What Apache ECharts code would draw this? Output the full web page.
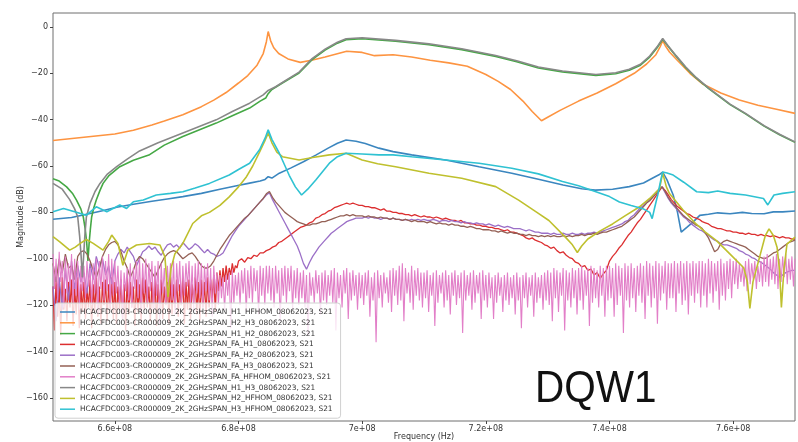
<!DOCTYPE html>
<html>
<head>
<meta charset="utf-8">
<script src="https://cdn.jsdelivr.net/npm/echarts@6/dist/echarts.min.js"></script>
<style>
  html, body { margin: 0; padding: 0; background: #ffffff; }
  #chart { width: 798px; height: 442px; }
</style>
</head>
<body>
<div id="chart"></div>
<script>
// S21 magnitude sweeps, 650-770 MHz. Frequencies in MHz, magnitudes in dB.
const PREFIX = 'HCACFDC003-CR000009_2K_2GHzSPAN_';
const traceNames = [
  PREFIX + 'H1_HFHOM_08062023, S21',
  PREFIX + 'H2_H3_08062023, S21',
  PREFIX + 'H1_H2_08062023, S21',
  PREFIX + 'FA_H1_08062023, S21',
  PREFIX + 'FA_H2_08062023, S21',
  PREFIX + 'FA_H3_08062023, S21',
  PREFIX + 'FA_HFHOM_08062023, S21',
  PREFIX + 'H1_H3_08062023, S21',
  PREFIX + 'H2_HFHOM_08062023, S21',
  PREFIX + 'H3_HFHOM_08062023, S21'
];
const traceColors = ['#3b86bf', '#fd9441', '#45a845', '#dc2f30', '#9b6fc7',
                     '#946055', '#e27fc8', '#888888', '#bfc02e', '#2fc2d2'];

const xTicks = [660, 680, 700, 720, 740, 760];
const yTicks = [0, -20, -40, -60, -80, -100, -120, -140, -160];

// Smooth traces: [MHz, dB]
const h1Hfhom = [[650,-83],[653,-82.2],[656,-80.5],[658,-79.3],[660.3,-77.8],[663,-76.5],[666,-75.2],[668.5,-74.2],[671,-73.2],[674,-71.8],[677,-70],[679.5,-68.6],[681.8,-67.4],[683.5,-66.5],[684.3,-65.8],[684.8,-64.6],[685.4,-65.2],[686.6,-63.1],[688.5,-60.8],[690.5,-58.2],[692.5,-55.3],[694.5,-52.3],[696,-50.2],[697.4,-48.8],[699,-49.3],[700.5,-50.3],[702.7,-52.3],[705,-53.8],[708,-55.2],[713.5,-57.4],[718.9,-60.3],[724.2,-63.1],[728.5,-65.7],[732.5,-68.2],[735.5,-69.8],[737.7,-70.4],[740.5,-70],[743.2,-68.9],[745.5,-67.3],[747,-65.2],[748,-63.8],[748.6,-62.6],[749.3,-66],[750.3,-72.5],[751,-80],[751.6,-88.5],[752.5,-86.5],[753.5,-84.2],[754.6,-81.3],[756,-80.8],[757.5,-80.2],[759.5,-80.6],[761.5,-80],[763,-80.5],[765,-80.6],[766.5,-79.8],[768,-79.8],[770,-79.4]];

const h2H3 = [[650,-49],[655,-47.6],[660,-46.2],[663,-44.6],[666,-42.3],[668,-40.6],[671,-37.9],[674,-34.4],[676,-31.6],[678,-28.3],[680,-24.2],[681.5,-21],[683,-16.5],[684,-11.5],[684.5,-6.5],[684.8,-2],[685.2,-6],[685.7,-9],[686.5,-11.5],[688,-13.8],[690,-15.3],[692,-14.3],[694,-13],[697.5,-10.5],[700,-11],[702,-12.4],[705,-12],[708,-13],[711,-14.4],[714,-15.5],[717,-17],[720,-20.5],[722,-23.5],[724,-27],[726,-32],[727.5,-36.5],[729,-40.5],[730,-39],[732,-36],[735,-32],[738,-28.5],[741,-24.5],[744,-20],[746,-16],[747.5,-12],[748.2,-8.5],[748.6,-5.9],[749,-8],[749.7,-10.8],[751,-14.5],[753,-20],[755,-24.5],[758,-28.5],[761,-31.5],[764,-33.8],[767,-35.5],[770,-37.3]];

const h1H2 = [[650,-65.5],[651,-66.5],[652.2,-69],[653.2,-72],[653.8,-74.7],[654.5,-78.5],[654.9,-82],[655.2,-87],[655.45,-93],[655.65,-101],[655.85,-93],[656.05,-87],[656.25,-82],[656.6,-78],[657,-74.7],[657.6,-70.5],[658.1,-67.5],[659,-64.3],[660.8,-60.3],[663,-57.5],[665.5,-55.3],[668,-51],[671,-47.3],[676.4,-41.5],[679,-38.3],[681.8,-35],[683.5,-32],[684.4,-30.7],[684.8,-28.8],[685.4,-27],[687.1,-24.2],[689.8,-19.9],[691.9,-14.1],[694,-10],[696,-7],[697.4,-5.5],[700,-5.1],[705.4,-6.2],[710.8,-7.7],[716.1,-9.8],[721.6,-12.7],[725,-15],[728.5,-17.7],[732.4,-19.4],[737.8,-20.9],[741,-20.2],[743.2,-18.7],[745,-16.5],[746.5,-13],[747.7,-9],[748.6,-5.3],[749.5,-8.5],[750.8,-12.8],[752.3,-17.5],[754,-22],[756,-26.5],[759.5,-33.5],[762,-37.5],[765,-42.8],[767.5,-46.5],[770,-49.8]];

const h1H3 = [[650,-67.5],[651.5,-70],[652.7,-74.5],[653.5,-78.5],[654,-82],[654.3,-90],[654.55,-99],[654.75,-108],[654.95,-99],[655.15,-90],[655.4,-82],[656,-76],[656.8,-71],[657.6,-67.5],[658.8,-63.5],[660.3,-60.3],[662,-57],[664,-53.5],[667,-50],[671,-45.8],[676.4,-40.1],[679,-36.5],[681.8,-32.9],[684,-29.3],[684.8,-27.4],[686,-25.8],[687.1,-24],[689.8,-19.5],[691.9,-13.7],[694,-9.6],[696,-6.6],[697.4,-5.1],[700,-4.7],[705.4,-5.8],[710.8,-7.3],[716.1,-9.4],[721.6,-12.3],[725,-14.6],[728.5,-17.3],[732.4,-19],[737.8,-20.5],[741,-19.8],[743.2,-18.3],[745,-16.1],[746.5,-12.6],[747.7,-8.6],[748.6,-5],[749.5,-8.2],[750.8,-12.5],[752.3,-17.2],[754,-21.8],[756,-26.3],[759.5,-33.3],[762,-37.3],[765,-42.6],[767.5,-46.3],[770,-49.6]];

const h2Hfhom = [[650,-90.5],[651.1,-92.7],[652.7,-96.3],[653.6,-95],[654.4,-93.4],[655.4,-91.7],[656.5,-93.4],[658.1,-96.3],[659,-92.5],[659.5,-89.8],[660.5,-93.4],[661.3,-102.8],[662.1,-96.3],[663.5,-94.1],[665.6,-93.4],[667.3,-94.1],[668.1,-99.2],[668.6,-116.5],[669.1,-104],[669.7,-98],[671,-93.4],[672.6,-84.8],[674,-81.5],[675.3,-80],[677,-77],[678.5,-73.3],[680,-69],[681.2,-65],[682.3,-60],[683.4,-54],[684.2,-49.5],[684.8,-45.8],[685.4,-50],[686.2,-54],[687.1,-56],[689.8,-57.4],[692,-56.3],[694.7,-55.2],[697.4,-54.5],[700,-57.4],[702.5,-59],[705.4,-60.3],[710.8,-63.1],[716.1,-65.3],[721.6,-68.9],[725.3,-74.7],[728.5,-80.4],[730.2,-83.5],[732.9,-90.8],[734,-94],[734.8,-97.3],[735.5,-94.5],[736.5,-91.5],[738.5,-88],[740.5,-85],[742.5,-81.5],[744.8,-77.7],[746.5,-74],[748.1,-69.7],[748.6,-63],[749.2,-69],[749.7,-71.9],[751.9,-79],[754,-85],[755.5,-88.5],[757.3,-92.2],[759.5,-98],[761.7,-103.9],[762.3,-110],[762.7,-121.4],[763.2,-110],[764.4,-98],[765.2,-90],[765.8,-87.1],[766.5,-90],[767.1,-95],[767.5,-105],[767.8,-121],[768.2,-105],[768.7,-93.7],[770,-90.7]];

const h3Hfhom = [[650,-79.7],[651.7,-78.3],[653.5,-79.7],[655.4,-81.2],[657,-77.6],[658.7,-79.7],[660.8,-76.8],[661.9,-78.3],[663,-75.4],[664.6,-74.7],[666.7,-72.5],[669,-71.8],[671,-71.1],[673,-69.5],[675.3,-67.5],[678.5,-63.9],[680,-61.5],[681.8,-58.8],[683.4,-53],[684.3,-48],[684.8,-44.4],[685.4,-48.5],[686.6,-54.5],[688.2,-64],[689.2,-69],[690.2,-72.5],[691.2,-70],[692.5,-66],[694.7,-58.8],[696,-56],[697.4,-54.5],[700,-54.8],[702.7,-55.2],[705,-55.2],[708,-56],[713.5,-57.4],[718.9,-58.8],[724.2,-61],[728.5,-63.4],[732.4,-66.7],[735,-68.5],[737.8,-71.1],[740,-73.2],[741.6,-75.5],[743.5,-77],[745.4,-78.4],[746.5,-80],[746.9,-82.7],[747.3,-78],[747.8,-72.5],[748.3,-66],[748.6,-62.6],[749.3,-63],[750.3,-63.9],[752,-67],[754.1,-71.1],[756,-71.5],[757.5,-70.8],[759.5,-71.8],[762,-72.5],[764.9,-74],[765.6,-76.8],[766.6,-72.5],[768,-71.8],[770,-71.1]];

// FA_H1: 650-679.75 MHz every 0.25 MHz, then 680-770 MHz every 0.5 MHz
const faH1Low = [
  -112,-131,-109,-125,-111,-133,-108,-122,-113,-127,-110,-121,-109,-129,-112,-124,-108,-130,-111,-123,
  -110,-126,-113,-121,-109,-130,-111,-123,-108,-125,-112,-128,-110,-120,-109,-127,-111,-122,-108,-126,
  -110,-128,-112,-122,-109,-126,-111,-131,-108,-124,-110,-121,-112,-129,-109,-123,-111,-127,-108,-122,
  -109,-121,-112,-127,-110,-123,-108,-129,-111,-122,-109,-126,-112,-120,-110,-128,-108,-124,-111,-121,
  -109,-125,-111,-120,-108,-128,-110,-122,-109,-126,-111,-119,-108,-124,-110,-127,-109,-121,-110,-125,
  -108,-121,-109,-117,-107,-123,-106,-114,-105,-112,-104,-110,-103,-109,-104,-107,-102,-106,-103,-104
];
const faH1High = [
  -101,-100,-101.5,-99.5,-100,-98.5,-99,-97.5,-97.5,-96.5,
  -96,-95,-94.5,-93,-92.5,-91.5,-90.5,-89.5,-88.5,-87.5,
  -86.5,-86,-85.5,-84.5,-84,-82.5,-82,-81,-80.5,-79.5,
  -79,-78,-77.5,-77,-76.5,-76,-76.5,-76,-76.5,-77,
  -77,-77.5,-77.5,-78,-78,-78.5,-79,-78.5,-79.5,-79.5,
  -80,-80,-80.5,-80.5,-81,-81,-81.5,-81,-81.5,-82,
  -81.5,-82,-82,-82.5,-82,-82.5,-83,-82.5,-83,-83.5,
  -83.5,-84,-83.5,-84.5,-84.5,-85,-85,-85.5,-85.5,-86,
  -86,-86.5,-86.5,-87,-87,-87.5,-88,-87.5,-88.5,-88.5,
  -89,-89.5,-90,-91,-91.5,-91,-92,-92.5,-93,-94,
  -94.5,-95.5,-95,-96.5,-97.5,-97,-98.5,-99.5,-100,-101.5,
  -102,-103.5,-103,-105,-104.5,-107,-106,-108.5,-106.5,-105,
  -101,-99,-97.5,-95.5,-94,-92,-90,-88.5,-86.5,-84.5,
  -83,-81,-79,-77,-75,-73,-71,-69,-70.5,-72.5,
  -74.5,-76,-77.5,-78.5,-79.5,-80.5,-81,-82,-82.5,-83,
  -84,-84.5,-85,-86,-86.5,-87,-87,-87.5,-88,-88,
  -88.5,-88.5,-89,-89,-89.5,-89,-89.5,-89.5,-90,-89.5,
  -90,-90,-90.5,-90,-90.5,-91,-90.5,-91,-91,-91.5,
  -91.5
];

// FA_H2 and FA_H3: 650-770 MHz every 0.5 MHz
const faH2 = [
  -112,-127,-108,-122,-104,-118,-101,-113,-103,-110,
  -106,-115,-102,-109,-99,-104,-100,-107,-103,-111,
  -101,-98,-96,-97.5,-95,-97,-99,-103,-100,-97,
  -96,-94.5,-96,-95,-97,-98.5,-96,-94,-93.5,-95,
  -94,-95.5,-93,-94.5,-96,-95,-93.5,-94.5,-96,-97.5,
  -96,-97.5,-98,-99,-98.5,-97.5,-95,-92.5,-90,-88,
  -86,-84.5,-83,-81.5,-80,-78.5,-77,-75.5,-74,-72.5,
  -71.5,-74.5,-77,-79.5,-82,-84.5,-87,-89.5,-92,-94.5,
  -98,-102,-104.5,-101.5,-99,-97,-95,-93.5,-92,-90.5,
  -89,-88,-87,-86,-85,-84,-83.5,-83,-82.5,-82.5,
  -82.5,-82,-82.5,-82,-82.5,-82.5,-83,-82.5,-82.5,-83,
  -82.5,-83,-83,-83.5,-83,-83.5,-83,-83.5,-83,-83.5,
  -83,-83.5,-83.5,-83,-83.5,-84,-83.5,-83.5,-84,-83.5,
  -84,-84,-84.5,-84,-84.5,-84.5,-85,-84.5,-85,-85,
  -85.5,-85,-85.5,-86,-85.5,-86,-86.5,-86,-86.5,-87,
  -87,-87,-87.5,-88,-87.5,-88,-88.5,-88.5,-89,-89,
  -89,-89.5,-89,-89.5,-89.5,-89,-89.5,-89.5,-89,-89.5,
  -89.5,-89,-89.5,-89,-89,-88.5,-89,-88.5,-88,-87.5,
  -87,-86.5,-86,-85.5,-85,-84,-83.5,-82,-81,-79.5,
  -78,-77,-75.5,-74.5,-73,-71.5,-70,-69,-71.5,-74,
  -76,-77.5,-79,-80.5,-82,-83,-84.5,-85.5,-86.5,-87.5,
  -88,-89,-90,-91,-92,-92.5,-93.5,-94,-94,-94.5,
  -95,-95.5,-96.5,-97,-98,-98.5,-99.5,-100,-101,-101.5,
  -102.5,-103.5,-104.5,-106,-107,-108,-107,-106,-105.5,-105,
  -105
];

const faH3 = [
  -102,-110,-100,-106,-98,-104,-103,-109,-99,-97,
  -96.5,-98,-101,-105,-108,-104,-99,-96,-94,-93,
  -92.5,-94,-97,-101,-104,-108,-105,-101,-99,-100,
  -102,-104,-106,-108,-105,-102,-99.5,-98,-97,-96.5,
  -97,-98.5,-100,-99,-98,-97.5,-99,-101,-103,-104,
  -104,-103,-101,-98.5,-96,-94,-92,-90,-88.5,-87,
  -85.5,-84,-82.5,-81.5,-80,-78.5,-77,-75.5,-74,-72,
  -71,-73.5,-75.5,-77,-78.5,-80,-81,-82,-83,-84,
  -84.5,-85,-85.5,-85.5,-85,-85,-84.5,-84,-84,-83.5,
  -83,-82.5,-82,-81.5,-81.5,-81,-81.5,-81,-81.5,-81.5,
  -81.5,-82,-81.5,-82,-82,-82.5,-82,-82.5,-82.5,-83,
  -82.5,-83,-83,-83.5,-83,-83.5,-84,-83.5,-84,-84,
  -84,-84.5,-84,-84.5,-85,-84.5,-85,-85,-85.5,-85,
  -85.5,-85.5,-86,-86,-86.5,-86,-86.5,-87,-87,-87.5,
  -87.5,-87.5,-88,-88,-88.5,-88,-88.5,-89,-88.5,-89,
  -89,-89.5,-89.5,-90,-89.5,-90,-90,-90.5,-90,-90.5,
  -90,-90.5,-90,-90.5,-90.5,-90,-90.5,-90,-90.5,-90,
  -90,-89.5,-90,-89.5,-89.5,-89,-89.5,-89,-88.5,-88.5,
  -88,-87.5,-87,-86.5,-86,-85,-84,-83,-82,-80.5,
  -79,-77.5,-76,-75,-73.5,-72,-70.5,-69,-71,-73.5,
  -75.5,-77,-78.5,-80,-81.5,-82.5,-83.5,-84.5,-85.5,-86,
  -87,-89,-91,-94,-97,-96,-93.5,-92.5,-92,-92.5,
  -93,-93.5,-94,-94.5,-95,-96,-97,-98,-99,-99.5,
  -100,-99.5,-98.5,-97.5,-97,-96,-95,-94,-93,-92.5,
  -92
];

// FA_HFHOM: 650-770 MHz every 0.25 MHz (noise floor)
const faHfhom = [
  -98,-113,-100,-118,-97,-110,-101,-121,-99,-115,-102,-112,-98,-119,-100,-116,-101,-122,-103,-114,
  -103,-117,-101,-112,-104,-120,-102,-115,-100,-124,-101,-113,-99,-118,-101,-114,-98,-121,-100,-116,
  -101,-115,-103,-119,-105,-126,-106,-114,-104,-118,-102,-121,-104,-113,-101,-117,-100,-123,-102,-115,
  -100,-119,-102,-114,-101,-122,-103,-116,-101,-128,-102,-115,-104,-120,-103,-113,-102,-118,-101,-124,
  -102,-114,-101,-120,-103,-116,-102,-112,-101,-119,-103,-123,-102,-115,-101,-117,-102,-121,-103,-114,
  -102,-118,-104,-125,-103,-115,-106,-120,-107,-117,-108,-122,-107,-116,-106,-130,-105,-119,-107,-116,
  -106,-120,-105,-115,-104,-123,-105,-117,-103,-119,-104,-114,-105,-124,-103,-116,-104,-120,-103,-115,
  -103,-118,-104,-121,-103,-115,-105,-127,-104,-116,-103,-119,-104,-114,-103,-122,-105,-117,-104,-120,
  -106,-117,-105,-121,-107,-133,-106,-116,-108,-119,-105,-115,-107,-124,-106,-118,-105,-120,-107,-116,
  -105,-119,-104,-131,-106,-117,-107,-121,-105,-115,-104,-126,-106,-118,-105,-116,-107,-122,-106,-117,
  -107,-120,-106,-116,-105,-125,-108,-118,-106,-136,-105,-117,-107,-121,-106,-115,-108,-119,-105,-123,
  -104,-116,-105,-120,-103,-118,-102,-127,-104,-115,-106,-119,-103,-122,-105,-116,-104,-118,-106,-121,
  -106,-117,-105,-123,-107,-116,-106,-129,-105,-119,-107,-115,-106,-121,-105,-118,-107,-124,-106,-116,
  -105,-120,-107,-117,-106,-132,-105,-118,-107,-116,-106,-122,-105,-119,-107,-115,-106,-126,-105,-118,
  -107,-121,-106,-117,-108,-126,-107,-119,-106,-116,-108,-123,-107,-118,-106,-120,-108,-117,-107,-124,
  -106,-118,-108,-130,-107,-117,-106,-121,-108,-116,-107,-125,-106,-119,-108,-117,-107,-122,-106,-118,
  -105,-120,-106,-127,-104,-117,-105,-123,-106,-116,-104,-131,-105,-118,-106,-121,-104,-117,-105,-124,
  -104,-118,-103,-122,-105,-116,-104,-129,-103,-119,-104,-117,-105,-121,-103,-116,-104,-125,-103,-118,
  -103,-117,-104,-125,-102,-120,-103,-116,-104,-132,-102,-118,-103,-121,-102,-117,-104,-123,-103,-116,
  -102,-119,-103,-126,-101,-116,-102,-121,-103,-117,-101,-128,-102,-118,-103,-115,-101,-122,-102,-117,
  -102,-117,-101,-123,-102,-115,-101,-120,-102,-118,-101,-124,-102,-116,-101,-119,-102,-115,-101,-121,
  -101,-116,-102,-121,-100,-115,-101,-119,-102,-114,-101,-122,-100,-116,-102,-118,-101,-113,-100,-117,
  -101,-111,-100,-113,-102,-110,-103,-112,-101,-114,-100,-111,-102,-109,-101,-113,-103,-110,-101,-112,
  -99,-110,-98,-112,-100,-109,-99,-111,-98,-113,-100,-110,-99,-108,-98,-111,-100,-109,-99,-112,
  -100
];

// Sampled traces are placed on their sweep grid (start MHz, step MHz)
const onSweep = (start, step, vals) => vals.map((v, i) => [(start + i * step) * 1e6, v]);
const fromPairs = pts => pts.map(p => [p[0] * 1e6, p[1]]);

const traceData = [
  fromPairs(h1Hfhom), fromPairs(h2H3), fromPairs(h1H2),
  onSweep(650, 0.25, faH1Low).concat(onSweep(680, 0.5, faH1High)),
  onSweep(650, 0.5, faH2), onSweep(650, 0.5, faH3), onSweep(650, 0.25, faHfhom),
  fromPairs(h1H3), fromPairs(h2Hfhom), fromPairs(h3Hfhom)
];
const traceWidths = [1.6, 1.6, 1.6, 1.3, 1.3, 1.3, 1.1, 1.6, 1.6, 1.6];

const FONT = '"DejaVu Sans", sans-serif';
const minus = v => (v < 0 ? '\u2212' + (-v) : String(v));

const chart = echarts.init(document.getElementById('chart'), null, { renderer: 'canvas' });
chart.setOption({
  animation: false,
  backgroundColor: '#ffffff',
  grid: {
    left: 53, right: 3, top: 13, bottom: 21, outerBoundsMode: 'none', containLabel: false,
    show: true, borderColor: '#6e6e6e', borderWidth: 1, backgroundColor: 'transparent'
  },
  xAxis: {
    type: 'value', min: 650e6, max: 770e6,
    name: 'Frequency (Hz)', nameLocation: 'middle', nameGap: 12, nameMoveOverlap: false,
    nameTextStyle: { fontFamily: FONT, fontSize: 8, color: '#333' },
    axisLine: { show: false, onZero: false },
    axisTick: { show: true, length: 3, customValues: xTicks.map(v => v * 1e6), lineStyle: { color: '#444' } },
    axisLabel: { customValues: xTicks.map(v => v * 1e6), margin: 4, fontFamily: FONT, fontSize: 8, color: '#333',
      formatter: v => Number((v / 1e8).toFixed(1)) + 'e+08' },
    splitLine: { show: false }
  },
  yAxis: {
    type: 'value', min: -170, max: 6,
    name: 'Magnitude (dB)', nameLocation: 'middle', nameGap: 28, nameMoveOverlap: false,
    nameTextStyle: { fontFamily: FONT, fontSize: 8, color: '#333' },
    axisLine: { show: false, onZero: false },
    axisTick: { show: true, length: 3, customValues: yTicks, lineStyle: { color: '#444' } },
    axisLabel: { customValues: yTicks, margin: 5, fontFamily: FONT, fontSize: 8, color: '#333', formatter: minus },
    splitLine: { show: false }
  },
  legend: {
    data: traceNames, orient: 'vertical', left: 55, top: 303,
    selectedMode: false,
    icon: 'path://M0,0H20V2H0Z',
    itemWidth: 15, itemHeight: 8, itemGap: 2.8,
    padding: [5, 8, 5, 5],
    backgroundColor: 'rgba(255,255,255,0.8)', borderColor: '#d0d0d0', borderWidth: 1, borderRadius: 3,
    textStyle: { fontFamily: FONT, fontSize: 7.4, color: '#333', lineHeight: 8 }
  },
  graphic: [{
    type: 'text', x: 535, y: 412, scaleX: 0.9,
    style: { text: 'DQW1', font: '45px "Liberation Sans", sans-serif', fill: '#111', textAlign: 'left', textVerticalAlign: 'bottom' }
  }],
  series: traceNames.map((name, k) => ({
    name, type: 'line', data: traceData[k],
    showSymbol: false, symbol: 'none', clip: true,
    color: traceColors[k],
    lineStyle: { width: traceWidths[k], color: traceColors[k] },
    emphasis: { disabled: true }
  }))
});
</script>
</body>
</html>
